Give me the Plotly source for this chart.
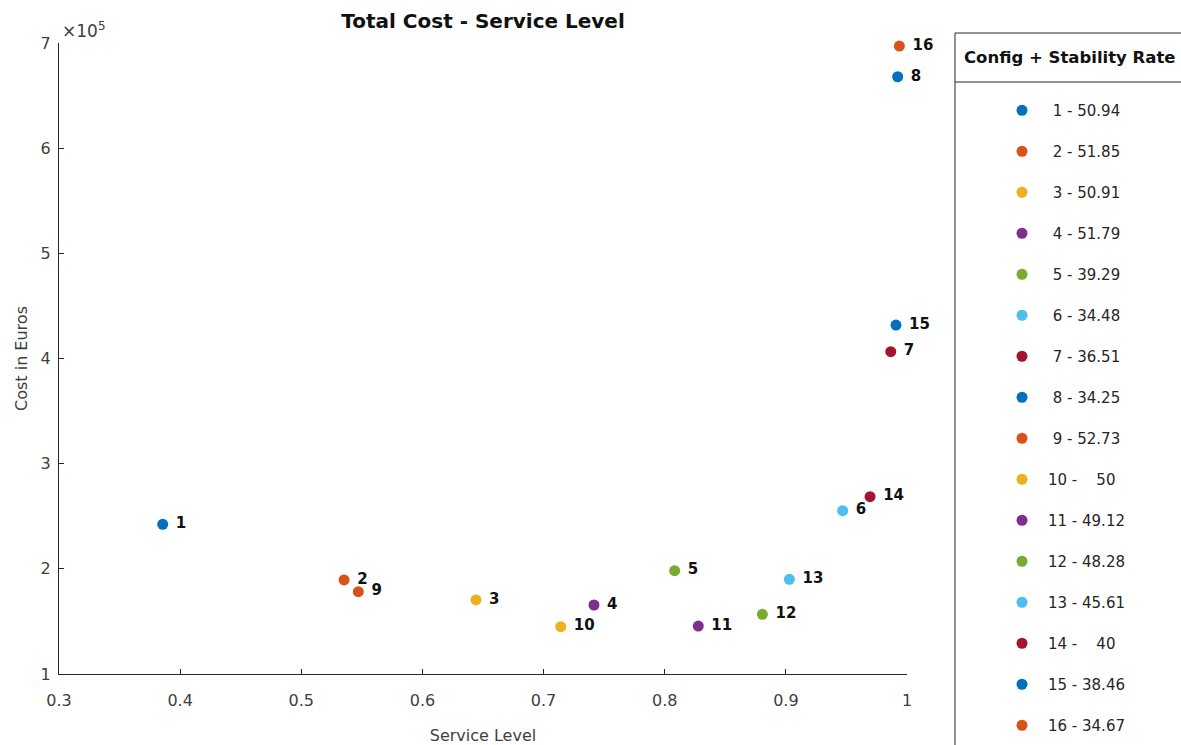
import plotly.graph_objects as go

# ---- data ----
configs = [str(i) for i in range(1, 17)]
service_level = [0.3856, 0.5353, 0.6442, 0.7416, 0.8082, 0.9469, 0.9866, 0.9923,
                 0.5471, 0.7142, 0.8277, 0.8806, 0.9029, 0.9695, 0.9909, 0.9937]
cost_euros = [242300, 189400, 170400, 165600, 198200, 255300, 406500, 667900,
              178300, 145000, 145600, 156800, 190000, 268600, 431800, 697100]
legend_labels = [" 1 - 50.94", " 2 - 51.85", " 3 - 50.91", " 4 - 51.79",
                 " 5 - 39.29", " 6 - 34.48", " 7 - 36.51", " 8 - 34.25",
                 " 9 - 52.73", "10 -    50", "11 - 49.12", "12 - 48.28",
                 "13 - 45.61", "14 -    40", "15 - 38.46", "16 - 34.67"]
y_tickvals = [100000, 200000, 300000, 400000, 500000, 600000, 700000]
y_ticktext = ["1", "2", "3", "4", "5", "6", "7"]
x_tickvals = [0.3, 0.4, 0.5, 0.6, 0.7, 0.8, 0.9, 1.0]
x_ticktext = ["0.3", "0.4", "0.5", "0.6", "0.7", "0.8", "0.9", "1"]

palette = ["#0072BD", "#D95319", "#EDB120", "#7E2F8E", "#77AC30", "#4DBEEE", "#A2142F"]

FONT = "DejaVu Sans"
AXIS_COL = "#262626"
TICK_COL = "#404040"

fig = go.Figure()
for i, cfg in enumerate(configs):
    fig.add_trace(go.Scatter(
        x=[service_level[i]], y=[cost_euros[i]],
        mode="markers+text",
        text=["\u00a0" + cfg], textposition="middle right",
        textfont=dict(family=FONT, size=15, color="#111111", weight="bold"),
        marker=dict(size=11, color=palette[i % len(palette)], line=dict(width=0)),
        name=legend_labels[i].replace(" ", "\u00a0"),
        legendgroup="g%d" % i,
        cliponaxis=False,
    ))

W, H = 1181, 745
L, R, T, B = 59, 274, 43, 71
pw, ph = W - L - R, H - T - B

def px_x(p):
    return (p - L) / pw

def px_y(p):
    return (H - B - p) / ph

fig.update_layout(
    width=W, height=H,
    margin=dict(l=L, r=R, t=T, b=B, autoexpand=False),
    paper_bgcolor="white", plot_bgcolor="white",
    font=dict(family=FONT, color=TICK_COL),
    title=dict(text="<b>Total Cost - Service Level</b>", x=0.5, xref="paper",
               xanchor="center", y=1 - 21 / H, yref="container", yanchor="middle",
               font=dict(family=FONT, size=20, color="#111111")),
    showlegend=True,
    legend=dict(x=px_x(996), y=px_y(94), xanchor="left", yanchor="top",
                xref="paper", yref="paper",
                bgcolor="rgba(0,0,0,0)", borderwidth=0,
                font=dict(family=FONT, size=15, color=AXIS_COL),
                tracegroupgap=18.5, itemwidth=42, maxheight=1000),
    xaxis=dict(range=[0.3, 1.0], tickvals=x_tickvals, ticktext=x_ticktext,
               ticks="inside", ticklen=5, tickcolor=AXIS_COL,
               showline=True, linecolor=AXIS_COL, linewidth=1, mirror=False,
               showgrid=False, zeroline=False, ticklabelstandoff=12,
               tickfont=dict(family=FONT, size=16, color=TICK_COL),
               title=dict(text="Service Level", standoff=28,
                          font=dict(family=FONT, size=16, color=TICK_COL))),
    yaxis=dict(range=[100000, 700000], tickvals=y_tickvals, ticktext=y_ticktext,
               ticks="inside", ticklen=5, tickcolor=AXIS_COL,
               showline=True, linecolor=AXIS_COL, linewidth=1, mirror=False,
               showgrid=False, zeroline=False, ticklabelstandoff=4,
               tickfont=dict(family=FONT, size=16, color=TICK_COL),
               title=dict(text="Cost in Euros", standoff=9,
                          font=dict(family=FONT, size=16, color=TICK_COL))),
)

# exponent label
fig.add_annotation(text="×10<sup>5</sup>", xref="paper", yref="paper",
                   x=0.0, y=1.0, xanchor="left", yanchor="bottom", xshift=1, yshift=0,
                   showarrow=False, font=dict(family=FONT, size=17, color=TICK_COL))

# legend frame, title and separator
fig.add_shape(type="rect", xref="paper", yref="paper",
              x0=px_x(955), x1=px_x(1260), y0=px_y(800), y1=px_y(33),
              line=dict(color=AXIS_COL, width=1), fillcolor="rgba(0,0,0,0)")
fig.add_shape(type="line", xref="paper", yref="paper",
              x0=px_x(955), x1=px_x(1260), y0=px_y(82), y1=px_y(82),
              line=dict(color=AXIS_COL, width=1))
fig.add_annotation(text="<b>Config + Stability Rate</b>", xref="paper", yref="paper",
                   x=px_x(1070), y=px_y(57), xanchor="center", yanchor="middle",
                   showarrow=False, font=dict(family=FONT, size=16.5, color="#111111"))

fig.write_html("out.html",
               config={"displayModeBar": False},
               post_script="document.body.style.margin='0';"
                           "document.body.style.overflow='hidden';")
